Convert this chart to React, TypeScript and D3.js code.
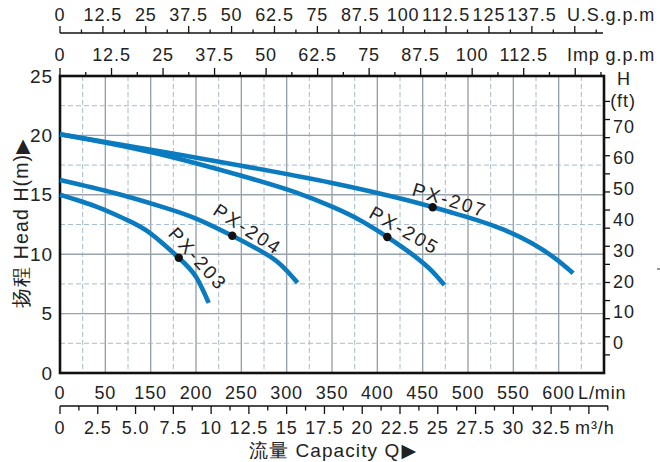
import React from 'react';
import * as d3 from 'd3';

const W = 660;
const H = 462;
const PL = 60, PR = 604, PT = 76, PB = 373;

// Axis tick labels (as printed on the original)
const usGpmLabels = ["0", "12.5", "25", "37.5", "50", "62.5", "75", "87.5", "100", "112.5", "125", "137.5"];
const impGpmLabels = ["0", "12.5", "25", "37.5", "50", "62.5", "75", "87.5", "100", "112.5"];
const lpmLabels = ["0", "50", "150", "200", "250", "300", "350", "400", "450", "500", "550", "600"];
const m3hLabels = ["0", "2.5", "5.0", "7.5", "10", "12.5", "15", "17.5", "20", "22.5", "25", "27.5", "30", "32.5"];
const headLabels = [0, 5, 10, 15, 20, 25];
const ftLabels = [0, 10, 20, 30, 40, 50, 60, 70];

// Pump curves: flow (L/min) vs head (m)
const px203Flow = [0, 40, 72, 99, 131, 150, 164];
const px203Head = [15.0, 14.0, 12.95, 11.8, 9.7, 8.1, 5.9];
const px204Flow = [0, 60, 110, 150, 190, 215, 240, 262];
const px204Head = [16.25, 15.15, 14.05, 13.0, 11.55, 10.55, 9.35, 7.6];
const px205Flow = [0, 100, 200, 260, 300, 330, 361, 390, 410, 424];
const px205Head = [20.1, 18.6, 16.6, 15.2, 14.0, 12.9, 11.45, 9.9, 8.6, 7.4];
const px207Flow = [0, 100, 200, 300, 380, 430, 460, 490, 520, 545, 566];
const px207Head = [20.1, 18.8, 17.45, 16.0, 14.6, 13.55, 12.87, 12.04, 10.94, 9.71, 8.4];

const curveNames = ["PX-203", "PX-204", "PX-205", "PX-207"];
const markerFlow = [131, 190, 361, 411];
const markerHead = [9.7, 11.55, 11.45, 13.95];
const labelFlow = [152, 207, 380, 430];
const labelHead = [9.6, 12.1, 12.0, 14.55];
const labelAngle = [48, 33, 30, 17];

const FONT = "'Liberation Sans', Arial, sans-serif";
const BLUE = "#0b7bc0";

export default function App() {
  const x = d3.scaleLinear().domain([0, 600]).range([PL, PR]);
  const y = d3.scaleLinear().domain([0, 25]).range([PB, PT]);
  const xUS = (v: number) => x(v * 3.785);
  const xImp = (v: number) => x(v * 4.546);
  const xM3 = (v: number) => x(v * 16.667);
  const yFtTick = (v: number) => y(v * 0.3048);
  const yFtLabel = d3.scaleLinear().domain([0, 70]).range([y(2.5), 127]);

  const line = d3.line<[number, number]>().x(d => x(d[0])).y(d => y(d[1])).curve(d3.curveNatural);
  const curves = [
    [px203Flow, px203Head],
    [px204Flow, px204Head],
    [px205Flow, px205Head],
    [px207Flow, px207Head],
  ].map(([f, h]) => line(f.map((v, i) => [v, h[i]] as [number, number])) as string);

  const vGrid = d3.range(25, 600, 25);
  const hGrid = d3.range(2.5, 25, 2.5);
  const usTicks = d3.range(0, 157, 6.25);
  const impTicks = d3.range(0, 132, 6.25);
  const m3Ticks = d3.range(0, 36.3, 1.25);
  const ftTicks = d3.range(5, 76, 5);

  const txt = { fontFamily: FONT, fontSize: 18, fill: "#222", letterSpacing: 0.9 } as const;

  return (
    <svg width={W} height={H} style={{ position: 'absolute', left: 0, top: 0, background: '#fff' }}>
      {/* grid */}
      {vGrid.map((q, i) => (
        <line key={'v' + q} x1={x(q)} x2={x(q)} y1={PT} y2={PB}
          stroke={i % 2 === 1 ? "#98a3ab" : "#a7bccd"} strokeWidth={i % 2 === 1 ? 1.4 : 1}
          strokeDasharray={i % 2 === 1 ? undefined : "5,3"} />
      ))}
      {hGrid.map((h, i) => (
        <line key={'h' + h} x1={PL} x2={PR} y1={y(h)} y2={y(h)}
          stroke={i % 2 === 1 ? "#98a3ab" : "#a7bccd"} strokeWidth={i % 2 === 1 ? 1.4 : 1}
          strokeDasharray={i % 2 === 1 ? undefined : "5,3"} />
      ))}

      {/* plot border */}
      <rect x={PL} y={PT} width={PR - PL} height={PB - PT} fill="none" stroke="#111" strokeWidth={2.6} />

      {/* top US gpm axis */}
      <line x1={PL} x2={603} y1={33} y2={33} stroke="#111" strokeWidth={1.5} />
      {usTicks.map((v, i) => (
        <line key={'us' + v} x1={xUS(v)} x2={xUS(v)} y1={33} y2={i % 2 === 0 ? 26 : 29.5} stroke="#111" strokeWidth={1.3} />
      ))}
      {usGpmLabels.map((l, i) => (
        <text key={'usl' + l} x={xUS(i * 12.5)} y={15} textAnchor="middle" dominantBaseline="central" {...txt}>{l}</text>
      ))}
      <text x={567} y={15} dominantBaseline="central" {...txt}>U.S.g.p.m</text>

      {/* Imp gpm axis on top border */}
      {impTicks.map((v, i) => (
        <line key={'imp' + v} x1={xImp(v)} x2={xImp(v)} y1={PT} y2={i % 2 === 0 ? 68 : 72} stroke="#111" strokeWidth={1.3} />
      ))}
      {impGpmLabels.map((l, i) => (
        <text key={'impl' + l} x={xImp(i * 12.5)} y={55} textAnchor="middle" dominantBaseline="central" {...txt}>{l}</text>
      ))}
      <text x={567} y={55} dominantBaseline="central" {...txt}>Imp g.p.m</text>

      {/* left head axis */}
      {headLabels.map(h => (
        <text key={'hl' + h} x={53} y={y(h)} textAnchor="end" dominantBaseline="central" {...txt} fontSize={19}>{h}</text>
      ))}
      <text transform={`translate(21,${223}) rotate(-90)`} textAnchor="middle" dominantBaseline="central" {...txt} fontSize={19.5} letterSpacing={1.1}>
        扬程 Head H(m)<tspan fontFamily="'DejaVu Sans'" fontSize={19}>▶</tspan>
      </text>

      {/* right ft axis */}
      {ftTicks.map(v => (
        <line key={'ft' + v} x1={PR} x2={PR + 6} y1={yFtTick(v)} y2={yFtTick(v)} stroke="#111" strokeWidth={1.3} />
      ))}
      {ftLabels.map(v => (
        <text key={'ftl' + v} x={613} y={yFtLabel(v)} dominantBaseline="central" {...txt}>{v}</text>
      ))}
      <text x={624} y={79} textAnchor="middle" dominantBaseline="central" {...txt}>H</text>
      <text x={623} y={101} textAnchor="middle" dominantBaseline="central" {...txt}>(ft)</text>
      <line x1={657} x2={661} y1={269} y2={269} stroke="#333" strokeWidth={1} />

      {/* bottom L/min labels */}
      {lpmLabels.map((l, i) => (
        <text key={'lpm' + i} x={x(i * 50)} y={393} textAnchor="middle" dominantBaseline="central" {...txt}>{l}</text>
      ))}
      <text x={578} y={393} dominantBaseline="central" {...txt}>L/min</text>

      {/* m3/h axis */}
      <line x1={PL} x2={608} y1={406} y2={406} stroke="#111" strokeWidth={1.5} />
      {m3Ticks.map((v, i) => (
        <line key={'m3' + v} x1={xM3(v)} x2={xM3(v)} y1={406} y2={i % 2 === 0 ? 414 : 410.5} stroke="#111" strokeWidth={1.3} />
      ))}
      {m3hLabels.map((l, i) => (
        <text key={'m3l' + i} x={xM3(i * 2.5)} y={428} textAnchor="middle" dominantBaseline="central" {...txt}>{l}</text>
      ))}
      <text x={575} y={428} dominantBaseline="central" {...txt}>m³/h</text>
      <text x={333} y={450} textAnchor="middle" dominantBaseline="central" {...txt} fontSize={19} letterSpacing={1.1}>
        流量 Capacity Q<tspan fontFamily="'DejaVu Sans'" fontSize={19} dx={1}>▶</tspan>
      </text>

      {/* curves */}
      {curves.map((d, i) => (
        <path key={'c' + i} d={d} fill="none" stroke={BLUE} strokeWidth={4.6} />
      ))}
      {markerFlow.map((q, i) => (
        <circle key={'m' + i} cx={x(q)} cy={y(markerHead[i])} r={4.2} fill="#111" />
      ))}
      {curveNames.map((n, i) => (
        <text key={'n' + n}
          transform={`translate(${x(labelFlow[i])},${y(labelHead[i])}) rotate(${labelAngle[i]})`}
          textAnchor="middle" dominantBaseline="central" {...txt} fontSize={19} letterSpacing={2.3}>{n}</text>
      ))}
    </svg>
  );
}
